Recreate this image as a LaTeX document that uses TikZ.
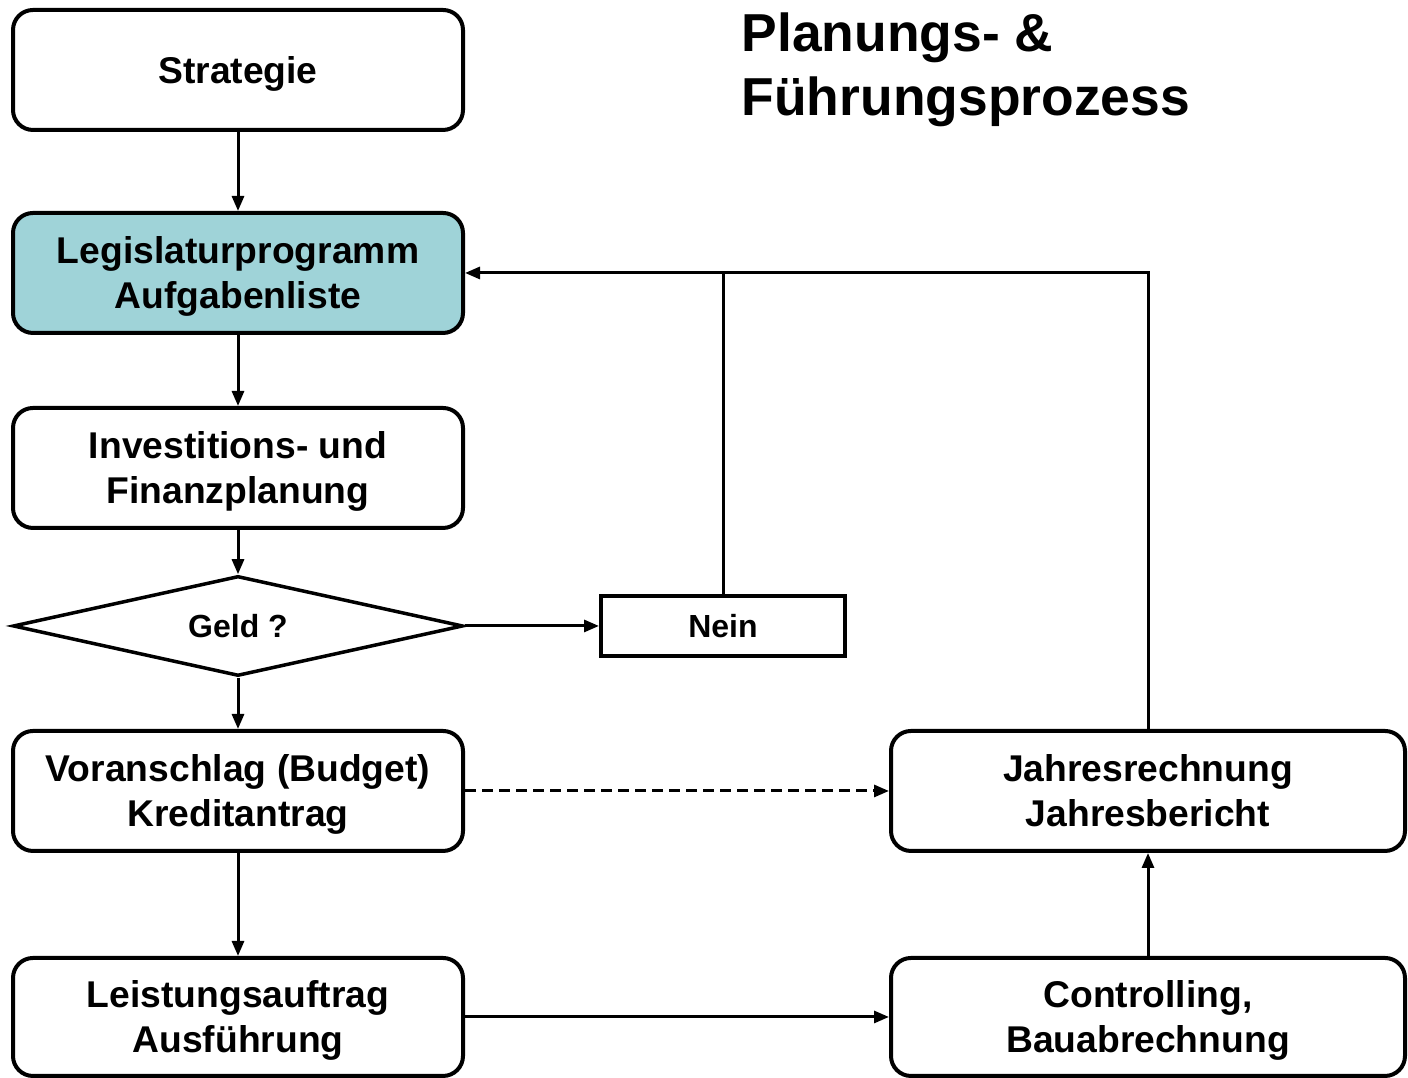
\documentclass[tikz,border=0pt]{standalone}
\usepackage{fontspec}
\setmainfont{Liberation Sans}
\usetikzlibrary{arrows.meta,shapes.geometric,calc}
\definecolor{legiscol}{RGB}{159,211,216}
\tikzset{
  boxstyle/.style={draw, line width=0.04cm, rounded corners=0.2cm, minimum width=4.5cm, minimum height=1.2cm, align=center, text depth=0.05ex, font=\bfseries\fontsize{10.6}{12.6}\selectfont},
  neinbox/.style={draw, line width=0.04cm, minimum width=2.44cm, minimum height=0.6cm, font=\bfseries\fontsize{9.1}{11}\selectfont},
  geldbox/.style={draw, diamond, line width=0.035cm, minimum width=4.5cm, minimum height=1cm, aspect=4.5, inner sep=0pt, font=\bfseries\fontsize{9.1}{11}\selectfont},
  conn/.style={line width=0.03cm, -{Triangle[length=0.15cm,width=0.12cm]}},
}
\begin{document}
\begin{tikzpicture}
  \useasboundingbox (0,0) rectangle (14.08,10.78);
  {\bfseries

  % Title
  \node [anchor=north west, align=left, inner sep=0pt, font=\bfseries\fontsize{15.2}{18.2}\selectfont] (title) at (7.41,10.66) {Planungs- \&\\Führungsprozess};

  % Left column boxes
  \node [boxstyle] (strategie) at (2.38,10.08) {Strategie};
  \node [boxstyle, fill=legiscol] (legis) at (2.38,8.05) {Legislaturprogramm\\Aufgabenliste};
  \node [boxstyle] (invest) at (2.38,6.10) {Investitions- und\\Finanzplanung};
  \node [geldbox] (geld) at (2.38,4.52) {Geld ?};
  \node [boxstyle] (budget) at (2.38,2.87) {Voranschlag (Budget)\\Kreditantrag};
  \node [boxstyle, minimum height=1.18cm] (leistung) at (2.38,0.61) {Leistungsauftrag\\Ausführung};

  % Nein box
  \node [neinbox] (nein) at (7.23,4.52) {Nein};

  % Right column boxes
  \node [boxstyle, minimum width=5.14cm] (jahres) at (11.48,2.87) {Jahresrechnung\\Jahresbericht};
  \node [boxstyle, minimum width=5.14cm, minimum height=1.18cm] (control) at (11.48,0.61) {Controlling,\\Bauabrechnung};

  % Connectors down the left column
  \draw [conn] (strategie) -- (legis);
  \draw [conn] (legis) -- (invest);
  \draw [conn] (invest) -- (geld);
  \draw [conn] (geld) -- (budget);
  \draw [conn] (budget) -- (leistung);

  % Geld to Nein
  \draw [conn] (geld.east) -- (nein.west);

  % Feedback loops
  \draw [conn] (jahres.north) |- (legis.east);
  \draw [line width=0.03cm] (nein.north) -- (nein.north |- legis.east);

  % Dashed and bottom connectors
  \draw [conn, dash pattern=on 0.11cm off 0.06cm] (budget.east) -- (jahres.west);
  \draw [conn] (leistung.east) -- (control.west);
  \draw [conn] (control.north) -- (jahres.south);
  }
\end{tikzpicture}
\end{document}
